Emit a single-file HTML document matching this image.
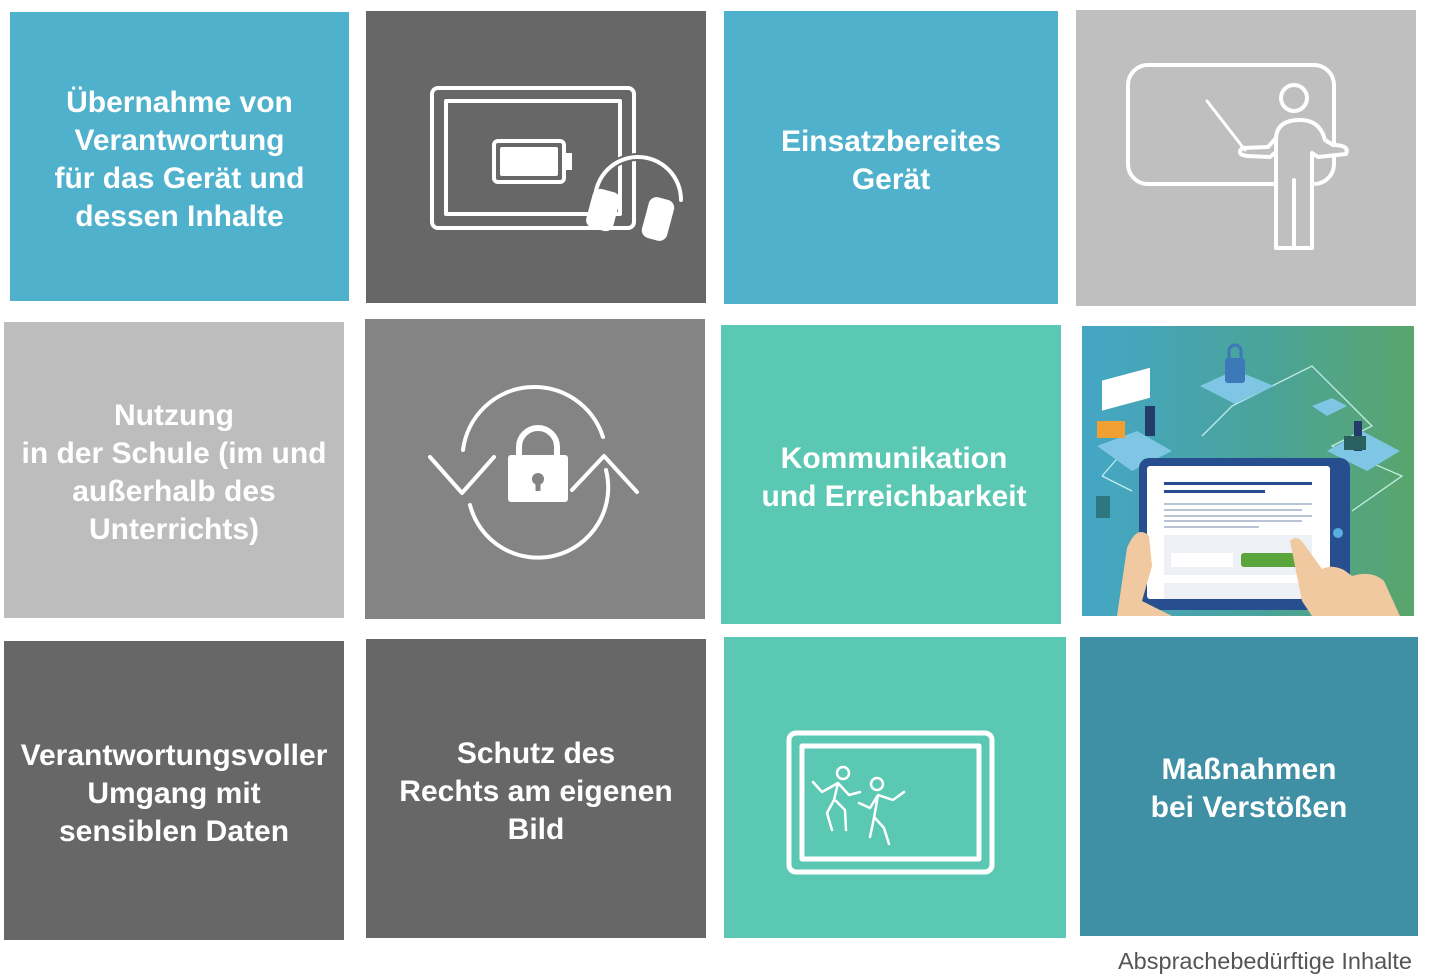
<!DOCTYPE html>
<html><head><meta charset="utf-8"><style>
body{margin:0;width:1440px;height:977px;background:#fff;position:relative;overflow:hidden;font-family:"Liberation Sans",sans-serif}
.t{position:absolute;display:flex;align-items:center;justify-content:center;text-align:center;color:#fff;font-size:30px;line-height:38px;font-weight:bold;box-sizing:border-box}
svg{position:absolute;left:0;top:0}
</style></head><body>
<div class="t" style="left:10px;top:12px;width:339px;height:289px;background:#4fb1cb;padding-top:6px">Übernahme von<br>Verantwortung<br>für das Gerät und<br>dessen Inhalte</div>
<div class="t" style="left:366px;top:11px;width:340px;height:292px;background:#676767"></div>
<div class="t" style="left:724px;top:11px;width:334px;height:293px;background:#4fb1cb;padding-top:6px">Einsatzbereites<br>Gerät</div>
<div class="t" style="left:1076px;top:10px;width:340px;height:296px;background:#bfbfbf"></div>
<div class="t" style="left:4px;top:322px;width:340px;height:296px;background:#bdbdbd;padding-top:6px">Nutzung<br>in der Schule (im und<br>außerhalb des<br>Unterrichts)</div>
<div class="t" style="left:365px;top:319px;width:340px;height:300px;background:#848484"></div>
<div class="t" style="left:721px;top:325px;width:340px;height:299px;background:#5bc8b3;padding-top:6px;padding-left:6px">Kommunikation<br>und Erreichbarkeit</div>
<div class="t" style="left:1082px;top:326px;width:332px;height:290px;background:linear-gradient(90deg,#44a6c6,#4aa39a 55%,#5aa56c)"></div>
<div class="t" style="left:4px;top:641px;width:340px;height:299px;background:#676767;padding-top:6px">Verantwortungsvoller<br>Umgang mit<br>sensiblen Daten</div>
<div class="t" style="left:366px;top:639px;width:340px;height:299px;background:#676767;padding-top:6px">Schutz des<br>Rechts am eigenen<br>Bild</div>
<div class="t" style="left:724px;top:637px;width:342px;height:301px;background:#5bc8b3"></div>
<div class="t" style="left:1080px;top:637px;width:338px;height:299px;background:#3f8fa5;padding-top:4px">Maßnahmen<br>bei Verstößen</div>
<div style="position:absolute;left:1118px;top:948px;font-size:23.5px;color:#555">Absprachebedürftige Inhalte</div>
<svg width="1440" height="977" fill="none" stroke="#fff" stroke-width="4" stroke-linecap="round" stroke-linejoin="round">
<rect x="432" y="88" width="202" height="140" rx="6"/>
<rect x="446" y="101" width="174" height="113"/>
<rect x="494" y="141" width="70" height="41" rx="4"/>
<rect x="502" y="149" width="54" height="25" fill="#fff"/>
<rect x="565" y="153" width="7" height="17" fill="#fff" stroke="none"/>
<path d="M595 200 A43 43 0 0 1 681 200" stroke-width="8" stroke="#676767"/>
<path d="M595 200 A43 43 0 0 1 681 200"/>
<rect x="591" y="192" width="24" height="36" rx="6" fill="#fff" transform="rotate(15 603 210)"/>
<rect x="647" y="200" width="22" height="38" rx="6" fill="#fff" transform="rotate(15 658 219)"/>
<rect x="1128" y="65" width="206" height="119" rx="20"/>
<circle cx="1294" cy="98" r="13" fill="#bfbfbf"/>
<path d="M1207 101 L1245 150" stroke-width="3"/>
<path d="M1276 248 V138 Q1277 120 1300 120 Q1320 120 1325 140 L1333 145 Q1350 145 1346 154 L1318 157 L1312 153 V248 Z" fill="#bfbfbf"/>
<path d="M1276 138 L1268 147 L1242 148 Q1236 155 1248 156 L1270 157 L1276 152"/>
<path d="M1294 180 V248"/>
<path d="M463 450 A72 72 0 0 1 603 437"/>
<path d="M606 470 A70 70 0 0 1 470 505"/>
<path d="M430 457 L462 493 L494 457"/>
<path d="M572 490 L604 456 L637 492"/>
<rect x="508" y="455" width="60" height="47" rx="3" fill="#fff" stroke="none"/>
<path d="M519 456 V447 A19 19 0 0 1 557 447 V456" stroke-width="6"/>
<circle cx="538" cy="479" r="6" fill="#848484" stroke="none"/>
<rect x="535.5" y="480" width="5" height="11" fill="#848484" stroke="none"/>
<rect x="789" y="733" width="203" height="139" rx="7" stroke-width="5"/>
<rect x="802" y="746" width="177" height="113" stroke-width="5"/>
<g stroke-width="2.5">
<circle cx="843" cy="773" r="6"/>
<path d="M813 782 L822 792 L838 783 L849 795 L860 792 M838 783 L834 800 L827 813 L832 830 M836 801 L845 810 L846 830"/>
<circle cx="877" cy="784" r="6"/>
<path d="M859 803 L870 808 L878 795 L893 800 L904 792 M878 795 L874 818 L870 837 M875 818 L884 828 L889 844"/>
</g>
</svg>
<svg width="1440" height="977">
<g transform="translate(1082,326)">
<g fill="none" stroke="#dff" stroke-width="1.3" opacity=".8">
<path d="M20 150 L55 110 M120 110 L150 80 L190 60 L230 40 L260 70 L290 100 L250 120 L320 150 L270 185 M20 150 L50 165"/>
</g>
<path d="M15 120 L55 105 L90 125 L50 145Z" fill="#7fc6e4"/>
<path d="M118 60 L153 44 L192 60 L153 78Z" fill="#7fc6e4"/>
<path d="M230 80 L250 72 L265 80 L245 90Z" fill="#7fc6e4"/>
<path d="M245 125 L280 105 L318 125 L285 145Z" fill="#7fc6e4"/>
<rect x="143" y="32" width="20" height="25" rx="3" fill="#3d78b8"/>
<path d="M147 33 V25 A6 6 0 0 1 159 25 V33" stroke="#3d78b8" stroke-width="3" fill="none"/>
<rect x="20" y="60" width="48" height="30" fill="#fff" transform="skewY(-15)"/>
<rect x="15" y="95" width="28" height="17" fill="#f0a030"/>
<rect x="63" y="80" width="10" height="30" fill="#233c6a"/>
<rect x="272" y="95" width="8" height="30" fill="#233c6a"/>
<rect x="262" y="110" width="22" height="14" fill="#2a6060"/>
<rect x="14" y="170" width="14" height="22" fill="#2d7780"/>
<rect x="57" y="132" width="211" height="152" rx="10" fill="#274e8e"/>
<rect x="65" y="140" width="183" height="133" rx="3" fill="#fff"/>
<circle cx="256" cy="207" r="5" fill="#59aee0"/>
<rect x="82" y="156" width="148" height="3" fill="#274e8e"/>
<rect x="82" y="164" width="101" height="3" fill="#274e8e"/>
<g fill="#b8c4d4"><rect x="82" y="177" width="148" height="2"/><rect x="82" y="183" width="138" height="2"/><rect x="82" y="189" width="148" height="2"/><rect x="82" y="194" width="138" height="2"/><rect x="82" y="200" width="95" height="2"/></g>
<rect x="82" y="209" width="148" height="40" fill="#edf1f6"/>
<rect x="89" y="227" width="62" height="14" fill="#fff"/>
<rect x="159" y="227" width="63" height="14" rx="3" fill="#5aa53c"/>
<rect x="82" y="257" width="148" height="16" fill="#edf1f6"/>
<path d="M35 290 L45 222 Q55 198 67 210 L70 240 L60 275 L90 290Z" fill="#f0c9a0"/>
<path d="M208 215 Q215 208 222 218 L240 243 Q250 238 262 244 L270 250 Q290 244 302 255 L318 290 L230 290 L220 275 Z" fill="#f0c9a0"/>
</g>
</svg>
</body></html>
